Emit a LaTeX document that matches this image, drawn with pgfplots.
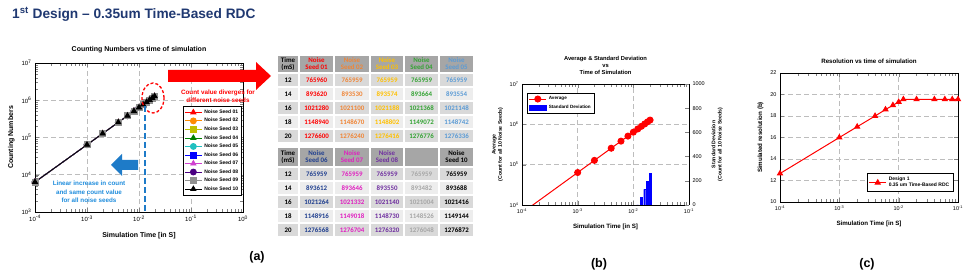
\documentclass[border=0pt]{standalone}
\usepackage{pgfplots}
\pgfplotsset{compat=1.18}
\usepackage{fontspec}
\setmainfont{Liberation Sans}
\newfontfamily\tabfont{Carlito}
\definecolor{navy}{HTML}{1F3871}
\definecolor{hdr}{HTML}{A6A6A6}
\definecolor{rowA}{HTML}{D9D9D9}
\definecolor{rowB}{HTML}{EDEDED}
\definecolor{t1}{HTML}{FF0000}
\definecolor{t2}{HTML}{F08536}
\definecolor{t3}{HTML}{FFC000}
\definecolor{t4}{HTML}{34A334}
\definecolor{t5}{HTML}{5B9BD5}
\definecolor{t6}{HTML}{203F8F}
\definecolor{t7}{HTML}{E020C0}
\definecolor{t8}{HTML}{7030A0}
\definecolor{t9}{HTML}{A6A6A6}
\definecolor{t10}{HTML}{000000}
\definecolor{p1}{HTML}{FF0000}
\definecolor{p2}{HTML}{FF8C00}
\definecolor{p3}{HTML}{C0C000}
\definecolor{p4}{HTML}{008000}
\definecolor{p5}{HTML}{20C0C0}
\definecolor{p6}{HTML}{0000FF}
\definecolor{p7}{HTML}{D040D0}
\definecolor{p8}{HTML}{4B0082}
\definecolor{p9}{HTML}{909090}
\definecolor{p10}{HTML}{000000}
\definecolor{abl}{HTML}{1E7BC8}
\definecolor{tbl}{HTML}{1E8CDC}
\definecolor{gridc}{HTML}{BDBDBD}
\newcommand\tc[7]{\fill[#5] (#1+0.6,#2+0.6) rectangle (#3-0.6,#4-0.6); \node[text=#6, align=center, font=\tabfont\bfseries\fontsize{6.9}{7.2}\selectfont, inner sep=0pt] at ({(#1+#3)/2},{(#2+#4)/2}) {#7};}
\pgfplotsset{
  myaxis/.style={scale only axis, anchor=south west, tick align=inside,
    /pgf/number format/assume math mode=true,
    /pgf/number format/set thousands separator={},
    grid=major, major grid style={gridc, line width=0.6pt, dash pattern=on 5pt off 3pt},
    axis line style={line width=0.6pt},
    title style={font=\bfseries\fontsize{6.2}{7}\selectfont, align=center},
    label style={font=\bfseries\fontsize{6.2}{7}\selectfont, align=center},
    xlabel style={yshift=-4pt},
    tick label style={font=\fontsize{5.5}{6}\selectfont},
  },
}
\begin{document}
\begin{tikzpicture}
\path[use as bounding box] (0,0) rectangle (969pt,280pt);
% ---------------- (a)
\begin{axis}[myaxis, at={(35pt,68pt)}, width=208pt, height=149pt,
  xmode=log, ymode=log, xmin=1e-4, xmax=1, ymin=1e3, ymax=1e7,
  xtick={1e-4,1e-3,1e-2,1e-1,1},
  xticklabels={10\textsuperscript{-4},10\textsuperscript{-3},10\textsuperscript{-2},10\textsuperscript{-1},10\textsuperscript{0}},
  ytick={1e3,1e4,1e5,1e6,1e7},
  yticklabels={10\textsuperscript{3},10\textsuperscript{4},10\textsuperscript{5},10\textsuperscript{6},10\textsuperscript{7}},
  title={Counting Numbers vs time of simulation},
  title style={font=\bfseries\fontsize{7}{8}\selectfont},
  label style={font=\bfseries\fontsize{7}{8}\selectfont},
  tick label style={font=\fontsize{6}{7}\selectfont},
  xlabel={Simulation Time [in S]}, ylabel={Counting Numbers},
  legend style={at={(0.995,0.711)}, anchor=north east, draw=black, line width=0.5pt,
    font=\bfseries\fontsize{5}{6}\selectfont, row sep=-0.6pt, inner sep=1.5pt},
  legend cell align=left,
  every axis plot/.append style={line width=0.8pt, mark size=3pt},
]
\addplot[p1, mark=triangle*] coordinates {(1e-4,6383)(1e-3,63830)(2e-3,127660)(4e-3,255320)(6e-3,382980)(8e-3,510640)(1e-2,638300)(0.012,765960)(0.014,893620)(0.016,1021280)(0.018,1148940)(0.02,1276600)};
\addlegendentry{Noise Seed 01}
\addplot[p2, mark=*] coordinates {(1e-4,6383)(1e-3,63830)(2e-3,127660)(4e-3,255320)(6e-3,382980)(8e-3,510640)(1e-2,638300)(0.012,765959)(0.014,893530)(0.016,1021100)(0.018,1148670)(0.02,1276240)};
\addlegendentry{Noise Seed 02}
\addplot[p3, mark=square*] coordinates {(1e-4,6383)(1e-3,63830)(2e-3,127660)(4e-3,255320)(6e-3,382980)(8e-3,510640)(1e-2,638300)(0.012,765959)(0.014,893574)(0.016,1021188)(0.018,1148802)(0.02,1276416)};
\addlegendentry{Noise Seed 03}
\addplot[p4, mark=triangle*] coordinates {(1e-4,6383)(1e-3,63830)(2e-3,127660)(4e-3,255320)(6e-3,382980)(8e-3,510640)(1e-2,638300)(0.012,765959)(0.014,893664)(0.016,1021368)(0.018,1149072)(0.02,1276776)};
\addlegendentry{Noise Seed 04}
\addplot[p5, mark=*] coordinates {(1e-4,6383)(1e-3,63830)(2e-3,127660)(4e-3,255320)(6e-3,382980)(8e-3,510640)(1e-2,638300)(0.012,765959)(0.014,893554)(0.016,1021148)(0.018,1148742)(0.02,1276336)};
\addlegendentry{Noise Seed 05}
\addplot[p6, mark=square*] coordinates {(1e-4,6383)(1e-3,63830)(2e-3,127660)(4e-3,255320)(6e-3,382980)(8e-3,510640)(1e-2,638300)(0.012,765959)(0.014,893612)(0.016,1021264)(0.018,1148916)(0.02,1276568)};
\addlegendentry{Noise Seed 06}
\addplot[p7, mark=triangle*] coordinates {(1e-4,6383)(1e-3,63830)(2e-3,127660)(4e-3,255320)(6e-3,382980)(8e-3,510640)(1e-2,638300)(0.012,765959)(0.014,893646)(0.016,1021332)(0.018,1149018)(0.02,1276704)};
\addlegendentry{Noise Seed 07}
\addplot[p8, mark=*] coordinates {(1e-4,6383)(1e-3,63830)(2e-3,127660)(4e-3,255320)(6e-3,382980)(8e-3,510640)(1e-2,638300)(0.012,765959)(0.014,893550)(0.016,1021140)(0.018,1148730)(0.02,1276320)};
\addlegendentry{Noise Seed 08}
\addplot[p9, mark=square*] coordinates {(1e-4,6383)(1e-3,63830)(2e-3,127660)(4e-3,255320)(6e-3,382980)(8e-3,510640)(1e-2,638300)(0.012,765959)(0.014,893482)(0.016,1021004)(0.018,1148526)(0.02,1276048)};
\addlegendentry{Noise Seed 09}
\addplot[p10, mark=triangle*] coordinates {(1e-4,6383)(1e-3,63830)(2e-3,127660)(4e-3,255320)(6e-3,382980)(8e-3,510640)(1e-2,638300)(0.012,765959)(0.014,893688)(0.016,1021416)(0.018,1149144)(0.02,1276872)};
\addlegendentry{Noise Seed 10}
\end{axis}
% ---------------- (b)
\begin{axis}[myaxis, at={(522pt,75pt)}, width=167pt, height=121pt,
  xmode=log, ymode=log, xmin=1e-4, xmax=1e-1, ymin=1e4, ymax=1e7,
  axis y line*=left, yminorticks=false,
  xtick={1e-4,1e-3,1e-2,1e-1},
  xticklabels={10\textsuperscript{-4},10\textsuperscript{-3},10\textsuperscript{-2},10\textsuperscript{-1}},
  ytick={1e4,1e5,1e6,1e7},
  yticklabels={10\textsuperscript{4},10\textsuperscript{5},10\textsuperscript{6},10\textsuperscript{7}},
  title={Average \& Standard Deviation\\vs\\Time of Simulation},
  title style={font=\bfseries\fontsize{5.8}{7}\selectfont},
  xlabel={Simulation Time [in S]},
  ylabel={Average\\(Count for all 10 Noise Seeds)},
  ylabel style={font=\bfseries\fontsize{5.2}{6.2}\selectfont},
  legend style={at={(0.03,0.926)}, anchor=north west, draw=black, line width=0.5pt,
    font=\bfseries\fontsize{4.6}{5.5}\selectfont, inner sep=1.5pt},
  legend cell align=left,
]
\addplot[red, line width=1pt, forget plot] coordinates {(1e-4,6383)(1e-3,63830)};
\addplot[red, line width=1pt, mark=*, mark size=3pt] coordinates {(1e-3,63830)(2e-3,127660)(4e-3,255320)(6e-3,382980)(8e-3,510640)(1e-2,638300)(0.012,765959)(0.014,893592)(0.016,1021224)(0.018,1148856)(0.02,1276488)};
\addlegendentry{Average}
\addlegendimage{area legend, fill=blue, draw=blue}
\addlegendentry{Standard Deviation}
\end{axis}
\begin{axis}[myaxis, at={(522pt,75pt)}, width=167pt, height=121pt,
  xmode=log, xmin=1e-4, xmax=1e-1, ymin=0, ymax=1000,
  axis y line*=right, axis x line=none, grid=none,
  ytick={0,200,400,600,800,1000},
  ylabel={Standard Deviation\\(Count for all 10 Noise Seeds)},
  ylabel style={font=\bfseries\fontsize{5.2}{6.2}\selectfont},
]
\addplot[ybar, bar width=2pt, fill=blue, draw=blue] coordinates {(0.012,0.3)(0.014,65.0)(0.016,129.9)(0.018,194.9)(0.02,259.8)};
\end{axis}
% ---------------- (c)
\begin{axis}[myaxis, at={(780pt,78pt)}, width=178pt, height=129pt,
  xmode=log, xmin=1e-4, xmax=1e-1, ymin=10, ymax=22,
  xtick={1e-4,1e-3,1e-2,1e-1},
  xticklabels={10\textsuperscript{-4},10\textsuperscript{-3},10\textsuperscript{-2},10\textsuperscript{-1}},
  ytick={10,12,14,16,18,20,22},
  title={Resolution vs time of simulation},
  xlabel={Simulation Time [in S]}, ylabel={Simulated resolution (b)},
  legend style={at={(0.972,0.078)}, anchor=south east, draw=black, line width=0.5pt,
    font=\bfseries\fontsize{5}{6}\selectfont, cells={align=left}, inner sep=1.5pt},
  legend cell align=left,
]
\addplot[red, line width=1pt, mark=triangle*, mark size=2.8pt] coordinates {(1e-4,12.65)(1e-3,16.0)(2e-3,17.0)(4e-3,18.0)(6e-3,18.6)(8e-3,19.0)(1e-2,19.3)(0.012,19.55)(0.02,19.55)(0.04,19.55)(0.06,19.55)(0.08,19.55)(0.1,19.55)};
\addlegendentry{Design 1\\0.35 um Time-Based RDC}
\end{axis}
% ---------------- annotations & tables
\begin{scope}[x=1pt, y=-1pt, shift={(0pt,280pt)}]
\node[anchor=west, text=navy, font=\bfseries\fontsize{13.7}{15}\selectfont, inner sep=0pt] at (12,14) {1\textsuperscript{st} Design – 0.35um Time-Based RDC};
% red arrow
\fill[red] (168,70)--(256,70)--(256,62)--(271,76)--(256,90)--(256,82)--(168,82)--cycle;
\node[text=red, font=\bfseries\fontsize{6.3}{8}\selectfont, align=center, inner sep=0pt] at (218,96) {Count value diverges for\\different noise seeds};
\draw[red, line width=1.3pt, dash pattern=on 3pt off 2pt] (153,98) ellipse [x radius=11pt, y radius=15pt];
% blue
\draw[abl, line width=2.6pt, dash pattern=on 6pt off 3pt] (145,106)--(145,212);
\fill[abl] (138,160)--(122,160)--(122,154)--(111,165)--(122,176)--(122,170)--(138,170)--cycle;
\node[text=tbl, font=\bfseries\fontsize{6.3}{8.5}\selectfont, align=center, inner sep=0pt] at (89,192) {Linear increase in count\\and same count value\\for all noise seeds};
% labels
\node[font=\bfseries\fontsize{12.5}{14}\selectfont] at (257,257) {(a)};
\node[font=\bfseries\fontsize{12.5}{14}\selectfont] at (599,264) {(b)};
\node[font=\bfseries\fontsize{12.5}{14}\selectfont] at (867,264) {(c)};
% top table
\tc{277}{55}{299}{73}{hdr}{black}{Time\\(mS)}
\foreach \ya/\yb/\f/\t in {73/87/rowA/12, 87/101/rowB/14, 101/115/rowA/16, 115/129/rowB/18, 129/143/rowA/20}{
  \tc{277}{\ya}{299}{\yb}{\f}{black}{\t}
  \tc{277}{\ya+94}{299}{\yb+94}{\f}{black}{\t}
}
\tc{277}{147}{299}{167}{hdr}{black}{Time\\(mS)}
\foreach \xl/\xr/\cc/\sn/\va/\vb/\vc/\vd/\ve in {
 299/334/t1/01/765960/893620/1021280/1148940/1276600,
 334/370/t2/02/765959/893530/1021100/1148670/1276240,
 370/404/t3/03/765959/893574/1021188/1148802/1276416,
 404/439/t4/04/765959/893664/1021368/1149072/1276776,
 439/474/t5/05/765959/893554/1021148/1148742/1276336}{
 \tc{\xl}{55}{\xr}{73}{hdr}{\cc}{Noise\\Seed \sn}
 \tc{\xl}{73}{\xr}{87}{rowA}{\cc}{\va}
 \tc{\xl}{87}{\xr}{101}{rowB}{\cc}{\vb}
 \tc{\xl}{101}{\xr}{115}{rowA}{\cc}{\vc}
 \tc{\xl}{115}{\xr}{129}{rowB}{\cc}{\vd}
 \tc{\xl}{129}{\xr}{143}{rowA}{\cc}{\ve}
}
\foreach \xl/\xr/\cc/\sn/\va/\vb/\vc/\vd/\ve in {
 299/334/t6/06/765959/893612/1021264/1148916/1276568,
 334/370/t7/07/765959/893646/1021332/1149018/1276704,
 370/404/t8/08/765959/893550/1021140/1148730/1276320,
 404/439/t9/09/765959/893482/1021004/1148526/1276048,
 439/474/t10/10/765959/893688/1021416/1149144/1276872}{
 \tc{\xl}{147}{\xr}{167}{hdr}{\cc}{Noise\\Seed \sn}
 \tc{\xl}{167}{\xr}{181}{rowA}{\cc}{\va}
 \tc{\xl}{181}{\xr}{195}{rowB}{\cc}{\vb}
 \tc{\xl}{195}{\xr}{209}{rowA}{\cc}{\vc}
 \tc{\xl}{209}{\xr}{223}{rowB}{\cc}{\vd}
 \tc{\xl}{223}{\xr}{237}{rowA}{\cc}{\ve}
}
\end{scope}
\end{tikzpicture}
\end{document}
